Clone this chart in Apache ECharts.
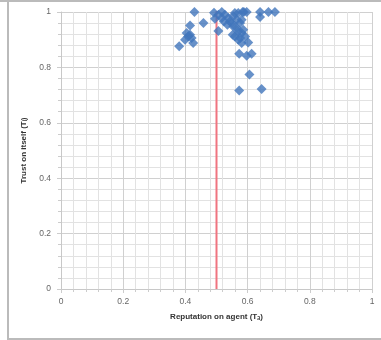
<!DOCTYPE html>
<html><head><meta charset="utf-8">
<script src="https://cdn.jsdelivr.net/npm/echarts@6/dist/echarts.min.js"></script>
<style>html,body{margin:0;padding:0;background:#fff}#c{width:381px;height:340px}</style>
</head><body><div id="c"></div>
<script>
var xValues = [0.429,0.415,0.458,0.492,0.495,0.506,0.517,0.527,0.538,0.543,0.535,0.549,0.554,0.565,0.559,0.570,0.588,0.597,0.581,0.576,0.570,0.581,0.586,0.592,0.576,0.581,0.570,0.602,0.573,0.597,0.613,0.606,0.573,0.645,0.640,0.640,0.667,0.688,0.404,0.409,0.415,0.420,0.425,0.399,0.380,0.506,0.517,0.524,0.554,0.565,0.552,0.559,0.584];
var yValues = [1.000,0.951,0.960,0.997,0.976,0.931,1.000,0.990,0.978,0.966,0.954,0.960,0.948,0.942,0.996,0.996,1.000,1.000,0.972,0.960,0.930,0.924,0.936,0.912,0.906,0.888,0.900,0.890,0.849,0.842,0.849,0.774,0.717,0.722,1.000,0.982,1.000,1.000,0.924,0.912,0.918,0.906,0.888,0.900,0.876,0.990,0.978,0.966,0.985,0.972,0.918,0.912,1.000];
var thresholdX = [0.5, 0.5];
var thresholdY = [0, 1.01];
var xTicks = [0, 0.2, 0.4, 0.6, 0.8, 1];
var yTicks = [0, 0.2, 0.4, 0.6, 0.8, 1];
var xTitle = 'Reputation on agent (Tₐ)';
var yTitle = 'Trust on itself (Tᵢ)';

var pts = xValues.map(function(x,i){return [x, yValues[i]];});
var line = thresholdX.map(function(x,i){return [x, thresholdY[i]];});
var chart = echarts.init(document.getElementById('c'));
var lbl = {color:'#666', fontSize:8.5, fontFamily:'Liberation Sans, Arial'};
chart.setOption({
  animation:false,
  graphic:[
    {type:'rect', shape:{x:8, y:0, width:380, height:339}, style:{fill:'none', stroke:'#bbb', lineWidth:2}},
    {type:'rect', shape:{x:0, y:0, width:381, height:2}, style:{fill:'#bbb'}}
  ],
  grid:{left:61, right:9, top:12, bottom:51},
  xAxis:{type:'value', min:0, max:1, interval:0.2,
    minorTick:{show:true, splitNumber:5, length:3, lineStyle:{color:'#ccc'}},
    minorSplitLine:{show:true, lineStyle:{color:'#e2e2e2', width:1}},
    splitLine:{show:true, lineStyle:{color:'#d0d0d0', width:1}},
    axisLine:{lineStyle:{color:'#c8c8c8'}}, axisTick:{show:true, length:4, lineStyle:{color:'#ccc'}},
    axisLabel:Object.assign({margin:8, formatter:function(v){return xTicks.indexOf(+v.toFixed(1))>=0?String(+v.toFixed(1)):'';}}, lbl),
    name:xTitle, nameLocation:'middle', nameGap:24,
    nameTextStyle:{fontSize:8, fontWeight:'bold', color:'#333', fontFamily:'Liberation Sans, Arial'}
  },
  yAxis:{type:'value', min:0, max:1, interval:0.2,
    minorTick:{show:true, splitNumber:5, length:3, lineStyle:{color:'#ccc'}},
    minorSplitLine:{show:true, lineStyle:{color:'#e2e2e2', width:1}},
    splitLine:{show:true, lineStyle:{color:'#d0d0d0', width:1}},
    axisLine:{show:true, lineStyle:{color:'#c8c8c8'}}, axisTick:{show:true, length:4, lineStyle:{color:'#ccc'}},
    axisLabel:Object.assign({margin:10, formatter:function(v){return yTicks.indexOf(+v.toFixed(1))>=0?String(+v.toFixed(1)):'';}}, lbl),
    name:yTitle, nameLocation:'middle', nameGap:30,
    nameTextStyle:{fontSize:8, fontWeight:'bold', color:'#333', fontFamily:'Liberation Sans, Arial'}
  },
  series:[
    {type:'line', data:line, symbol:'none', lineStyle:{color:'#f07480', width:2}, z:1},
    {type:'scatter', data:pts, symbol:'diamond', symbolSize:10, itemStyle:{color:'#4176bb'}, z:3}
  ]
});
</script></body></html>
